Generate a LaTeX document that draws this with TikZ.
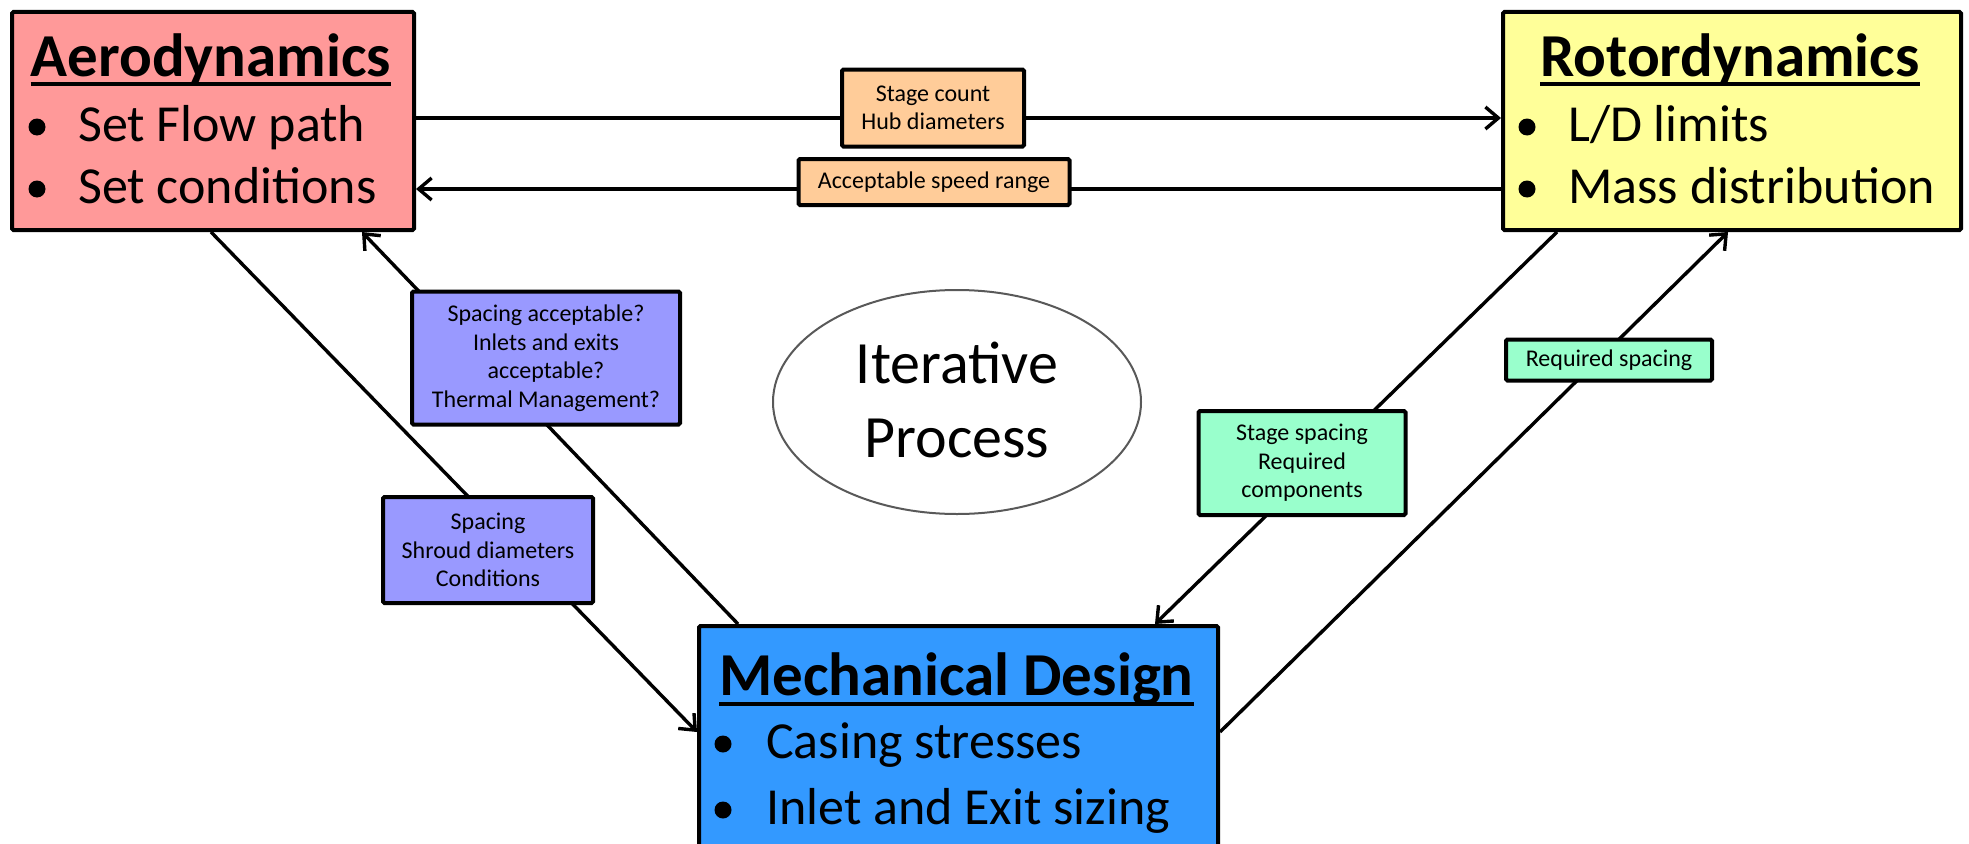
\documentclass[tikz,border=0pt]{standalone}
\usepackage{fontspec}
\setmainfont{Carlito}
\usetikzlibrary{arrows.meta,shapes.geometric,calc}

\definecolor{aerofill}{HTML}{FF9999}
\definecolor{rotorfill}{HTML}{FFFF99}
\definecolor{mechfill}{HTML}{3399FF}
\definecolor{orangefill}{HTML}{FFCC99}
\definecolor{purplefill}{HTML}{9999FF}
\definecolor{greenfill}{HTML}{99FFCC}
\definecolor{ovalline}{HTML}{595959}

\begin{document}
\begin{tikzpicture}[x=1pt,y=-1pt,
  mainbox/.style={draw=black, line width=4pt, rounded corners=1.5pt,
    inner sep=0pt, anchor=north west},
  hdr/.style={font=\fontsize{61}{73}\selectfont\bfseries, inner sep=0pt, anchor=base},
  item/.style={font=\fontsize{52}{63}\selectfont, inner sep=0pt, anchor=base west},
  uline/.style={line width=4pt},
  bulletdot/.style={fill=black},
  conn/.style={line width=3.4pt, -{Straight Barb[length=13pt,width=22pt]}},
  tag/.style={draw=black, line width=4pt, rounded corners=1.5pt, align=center,
    inner sep=0pt, font=\fontsize{24}{28.5}\selectfont},
  bigtext/.style={font=\fontsize{60}{74}\selectfont, inner sep=0pt, anchor=base}]
\useasboundingbox (0,0) rectangle (1969,843);

% ---- the three discipline boxes ----
\node[mainbox, fill=aerofill, minimum width=402pt, minimum height=218pt] (aero) at (10,10) {};
\node[mainbox, fill=rotorfill, minimum width=458pt, minimum height=218pt] (rotor) at (1501,10) {};
\node[mainbox, fill=mechfill, minimum width=519pt, minimum height=250pt] (mech) at (697,624) {};

% Aerodynamics
\node[hdr] (aeroH) at (211,76) {Aerodynamics};
\draw[uline] ([yshift=-8pt]aeroH.base west) -- ([yshift=-8pt]aeroH.base east);
\fill[bulletdot] (37,127) circle (8.5);
\node[item] (aeroA) at (78,141) {Set Flow path};
\fill[bulletdot] (37,189) circle (8.5);
\node[item] (aeroB) at (78,203) {Set conditions};

% Rotordynamics
\node[hdr] (rotorH) at (1730,76) {Rotordynamics};
\draw[uline] ([yshift=-8pt]rotorH.base west) -- ([yshift=-8pt]rotorH.base east);
\fill[bulletdot] (1527,127) circle (8.5);
\node[item] (rotorA) at (1568,141) {L/D limits};
\fill[bulletdot] (1527,189) circle (8.5);
\node[item] (rotorB) at (1568,203) {Mass distribution};

% Mechanical Design
\node[hdr] (mechH) at (956.5,695) {Mechanical Design};
\draw[uline] ([yshift=-9pt]mechH.base west) -- ([yshift=-9pt]mechH.base east);
\fill[bulletdot] (723,744) circle (8.5);
\node[item] (mechA) at (766,758) {Casing stresses};
\fill[bulletdot] (723,810) circle (8.5);
\node[item] (mechB) at (766,824) {Inlet and Exit sizing};

% ---- central oval ----
\node[ellipse, draw=ovalline, line width=2pt, fill=white,
      minimum width=368pt, minimum height=224pt] (iter) at (957,402) {};
\node[bigtext] (iterA) at (957,383) {Iterative};
\node[bigtext] (iterB) at (957,457) {Process};

% ---- connectors ----
\draw[conn] ($(aero.north east)+(0,108)$) -- ($(rotor.north west)+(0,108)$);
\draw[conn] ($(rotor.north west)+(0,179)$) -- ($(aero.north east)+(0,179)$);
\draw[conn] ($(aero.south west)+(201,0)$) -- ($(mech.north west)+(0,108)$);
\draw[conn] ($(mech.north west)+(41,0)$) -- ($(aero.south west)+(352,0)$);
\draw[conn] ($(rotor.south west)+(56,0)$) -- ($(mech.north west)+(458,0)$);
\draw[conn] ($(mech.north east)+(0,108)$) -- ($(rotor.south west)+(227,0)$);

% ---- exchanged-data labels ----
\node[tag, fill=orangefill, minimum width=182pt, minimum height=77pt] (stagecount) at (933,108)
  {Stage count\\Hub diameters};
\node[tag, fill=orangefill, minimum width=271pt, minimum height=46pt] (speedrange) at (934,182)
  {Acceptable speed range};
\node[tag, fill=purplefill, minimum width=268pt, minimum height=133pt] (acceptq) at (546,358)
  {Spacing acceptable?\\Inlets and exits\\acceptable?\\Thermal Management?};
\node[tag, fill=purplefill, minimum width=210pt, minimum height=106pt] (shroud) at (488,550)
  {Spacing\\Shroud diameters\\Conditions};
\node[tag, fill=greenfill, minimum width=207pt, minimum height=104pt] (stagespacing) at (1302,463)
  {Stage spacing\\Required\\components};
\node[tag, fill=greenfill, minimum width=206pt, minimum height=41pt] (reqspacing) at (1609,360)
  {Required spacing};
\end{tikzpicture}
\end{document}
